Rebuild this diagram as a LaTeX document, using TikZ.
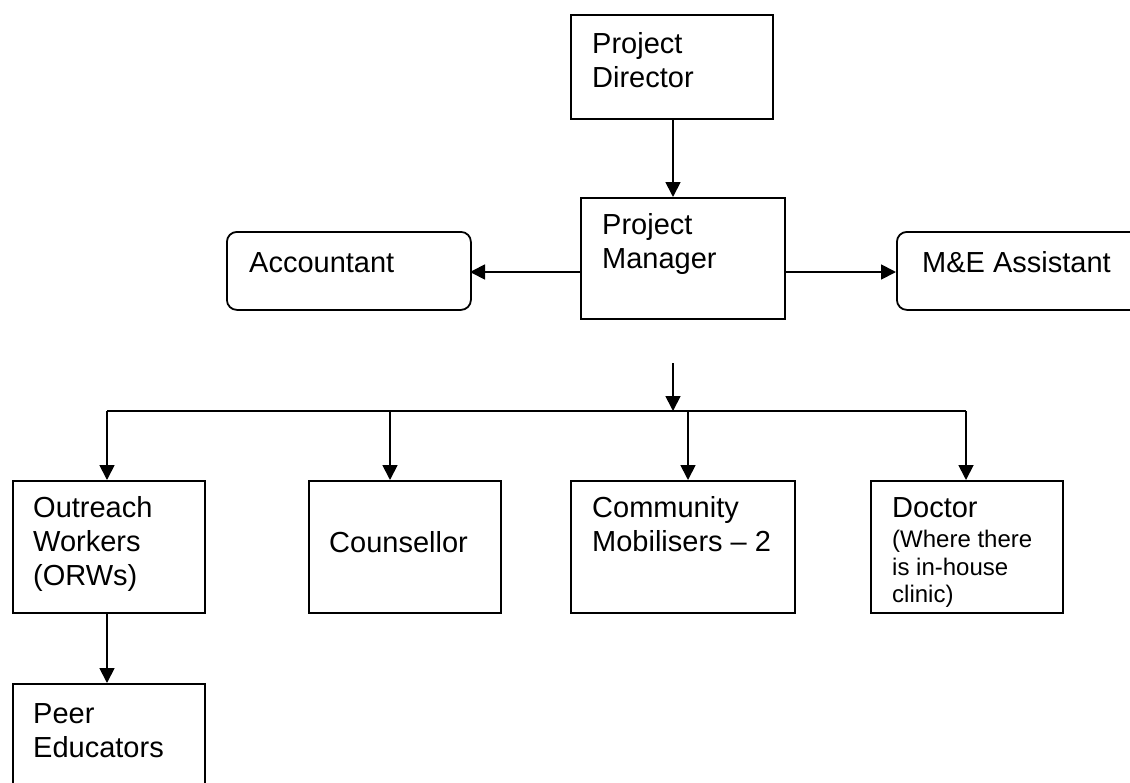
\documentclass[tikz,border=0pt]{standalone}
\usepackage{fontspec}
\setmainfont{Liberation Sans}
\usetikzlibrary{arrows.meta}
\begin{document}
\begin{tikzpicture}[x=1pt,y=-1pt,
  box/.style={draw,line width=1.8pt,inner sep=0pt,anchor=north west},
  rbox/.style={box,rounded corners=10pt},
  lbl/.style={anchor=base west,inner sep=0pt,font=\fontsize{29}{34}\selectfont},
  small/.style={anchor=base west,inner sep=0pt,font=\fontsize{24}{28}\selectfont},
  conn/.style={line width=1.8pt},
  arr/.style={conn,-{Triangle[length=15pt,width=15pt]}}]
\useasboundingbox (0,0) rectangle (1130,782);
\clip (0,0) rectangle (1130,782);
% boxes
\node[box,minimum width=202pt,minimum height=104pt] (pd) at (570,14) {};
\node[box,minimum width=204pt,minimum height=121pt] (pm) at (580,197) {};
\node[rbox,minimum width=244pt,minimum height=78pt] (acc) at (226,231) {};
\node[rbox,minimum width=260pt,minimum height=78pt] (me) at (896,231) {};
\node[box,minimum width=192pt,minimum height=132pt] (orw) at (12,480) {};
\node[box,minimum width=192pt,minimum height=132pt] (cou) at (308,480) {};
\node[box,minimum width=224pt,minimum height=132pt] (com) at (570,480) {};
\node[box,minimum width=192pt,minimum height=132pt] (doc) at (870,480) {};
\node[box,minimum width=192pt,minimum height=130pt] (peer) at (12,683) {};
% texts
\node[lbl] (tpd1) at (592,53) {Project};
\node[lbl] (tpd2) at (592,87) {Director};
\node[lbl] (tpm1) at (602,234) {Project};
\node[lbl] (tpm2) at (602,268) {Manager};
\node[lbl] (tacc) at (249,272) {Accountant};
\node[lbl] (tme) at (922,272) {M\&E Assistant};
\node[lbl] (to1) at (33,517) {Outreach};
\node[lbl] (to2) at (33,551) {Workers};
\node[lbl] (to3) at (33,585) {(ORWs)};
\node[lbl] (tcou) at (329,552) {Counsellor};
\node[lbl] (tc1) at (592,517) {Community};
\node[lbl] (tc2) at (592,551) {Mobilisers – 2};
\node[lbl] (td1) at (892,517) {Doctor};
\node[small] (td2) at (892,547) {(Where there};
\node[small] (td3) at (892,575) {is in-house};
\node[small] (td4) at (892,602) {clinic)};
\node[lbl] (tp1) at (33,723) {Peer};
\node[lbl] (tp2) at (33,757) {Educators};
% connectors
\coordinate (pdout) at (673,118);
\draw[arr] (pdout) -- (pdout |- pm.north);
\coordinate (accin) at (470,272);
\draw[arr] (accin -| pm.west) -- (accin);
\coordinate (mein) at (896,272);
\draw[arr] (mein -| pm.east) -- (mein);
\coordinate (ftop) at (673,363);
\coordinate (fbus) at (673,411);
\coordinate (busL) at (107,411);
\coordinate (busR) at (966,411);
\draw[arr] (ftop) -- (fbus);
\draw[conn] (busL) -- (busR);
\coordinate (orwin) at (107,480);
\coordinate (couin) at (390,480);
\coordinate (comin) at (688,480);
\coordinate (docin) at (966,480);
\draw[arr] (busL) -- (orwin);
\draw[arr] (couin |- busL) -- (couin);
\draw[arr] (comin |- busL) -- (comin);
\draw[arr] (busR) -- (docin);
\coordinate (orwout) at (107,612);
\draw[arr] (orwout) -- (orwout |- peer.north);
\end{tikzpicture}
\end{document}
